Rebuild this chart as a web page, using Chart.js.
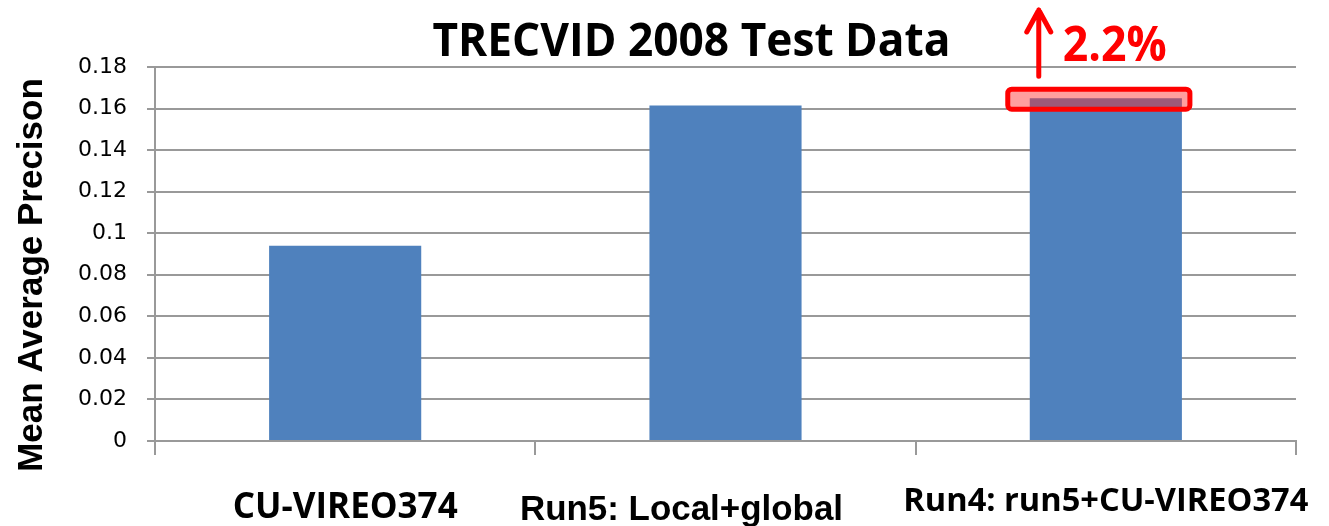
<!DOCTYPE html>
<html>
<head>
<meta charset="utf-8">
<script src="https://cdn.jsdelivr.net/npm/chart.js@4.4.1/dist/chart.umd.min.js"></script>
<style>
  html, body { margin: 0; background: #fff; }
  #wrap { width: 1329px; height: 526px; }
</style>
</head>
<body>
<div id="wrap"><canvas id="mapChart"></canvas></div>
<script>
// ── Data ─────────────────────────────────────────────────────
const runs = ['CU-VIREO374', 'Run5: Local+global', 'Run4: run5+CU-VIREO374'];
const meanAP = [0.094, 0.1615, 0.165];
const yTicks = [0, 0.02, 0.04, 0.06, 0.08, 0.1, 0.12, 0.14, 0.16, 0.18];
const chartTitle = 'TRECVID 2008 Test Data';
const yTitle = 'Mean Average Precison';
const gainLabel = '2.2%';
const highlightIndex = 2;

// ── Look ─────────────────────────────────────────────────────
const GRID = '#999999';
const BAR = '#4f81bd';
const RED = '#ff0000';
const BOLD = '"Open Sans", "Noto Sans", sans-serif';
const ARIAL = '"Liberation Sans", Arial, sans-serif';

// category labels were hand-placed on the slide (and not all in the same font)
const labelDx = [0, -44, 0];
const labelBase = [518, 520, 511];
const labelWidth = [226, 323, 405];
const labelFont = [`bold 35px ${BOLD}`, `bold 35px ${ARIAL}`, `bold 33px ${BOLD}`];

// ── Slide text + red highlight ───────────────────────────────
const slideText = {
  id: 'slideText',
  afterDatasetsDraw(chart) {
    const { ctx } = chart;
    const bar = chart.getDatasetMeta(0).data[highlightIndex];
    const { x, y, width } = bar.getProps(['x', 'y', 'width'], true);
    const left = x - width / 2 - 22;
    const right = x + width / 2 + 8;
    ctx.save();
    ctx.beginPath();
    ctx.roundRect(left, y - 9, right - left, 20, 4);
    ctx.fillStyle = 'rgba(255,40,40,0.45)';
    ctx.fill();
    ctx.lineWidth = 5;
    ctx.strokeStyle = RED;
    ctx.stroke();

    // arrow up
    const ax = left + 31;
    ctx.beginPath();
    ctx.lineWidth = 5;
    ctx.lineCap = 'round';
    ctx.lineJoin = 'round';
    ctx.moveTo(ax, y - 22);
    ctx.lineTo(ax, 10);
    ctx.moveTo(ax - 12, 32);
    ctx.lineTo(ax, 10);
    ctx.lineTo(ax + 12, 32);
    ctx.stroke();

    ctx.fillStyle = RED;
    ctx.font = `bold 48px ${BOLD}`;
    ctx.textAlign = 'left';
    ctx.textBaseline = 'alphabetic';
    ctx.fillText(gainLabel, ax + 24, 61, 104);
    ctx.restore();
  },
  afterDraw(chart) {
    const { ctx, chartArea } = chart;
    const xs = chart.scales.x;
    ctx.save();
    ctx.fillStyle = '#000';
    ctx.textBaseline = 'alphabetic';
    ctx.textAlign = 'center';

    // title
    ctx.font = `bold 46px ${BOLD}`;
    ctx.fillText(chartTitle, (chartArea.left + chartArea.right) / 2 - 34, 56, 518);

    // category labels
    runs.forEach((r, i) => {
      ctx.font = labelFont[i];
      ctx.fillText(r, xs.getPixelForValue(i) + labelDx[i], labelBase[i], labelWidth[i]);
    });

    // y axis title
    ctx.translate(42, 275);
    ctx.rotate(-Math.PI / 2);
    ctx.font = `bold 35px ${ARIAL}`;
    ctx.fillText(yTitle, 0, 0, 396);
    ctx.restore();
  },
};

// ── Chart ────────────────────────────────────────────────────
new Chart(document.getElementById('mapChart'), {
  type: 'bar',
  data: {
    labels: runs,
    datasets: [{
      label: yTitle,
      data: meanAP,
      backgroundColor: BAR,
      barPercentage: 0.8,
      categoryPercentage: 0.5,
    }],
  },
  options: {
    responsive: true,
    maintainAspectRatio: false,
    animation: false,
    layout: { padding: { left: 0, top: 67, right: 33, bottom: 0 } },
    plugins: {
      legend: { display: false },
      tooltip: { enabled: false },
    },
    scales: {
      x: {
        grid: {
          color: c => (c.index === runs.length ? GRID : 'rgba(0,0,0,0)'),
          tickColor: GRID,
          lineWidth: 2,
          tickLength: 14,
        },
        border: { color: GRID, width: 2 },
        ticks: { callback: () => '' },
        afterFit: s => { s.height = 85; },
      },
      y: {
        min: 0,
        max: 0.18,
        afterBuildTicks: s => { s.ticks = yTicks.map(v => ({ value: v })); },
        ticks: {
          color: '#000',
          padding: 20,
          font: { family: '"DejaVu Sans", sans-serif', size: 22 },
          callback: v => String(+v.toFixed(2)),
        },
        grid: { color: GRID, lineWidth: 2, tickLength: 8 },
        border: { color: GRID, width: 2 },
        afterFit: s => { s.width = 155; },
      },
    },
  },
  plugins: [slideText],
});
</script>
</body>
</html>
